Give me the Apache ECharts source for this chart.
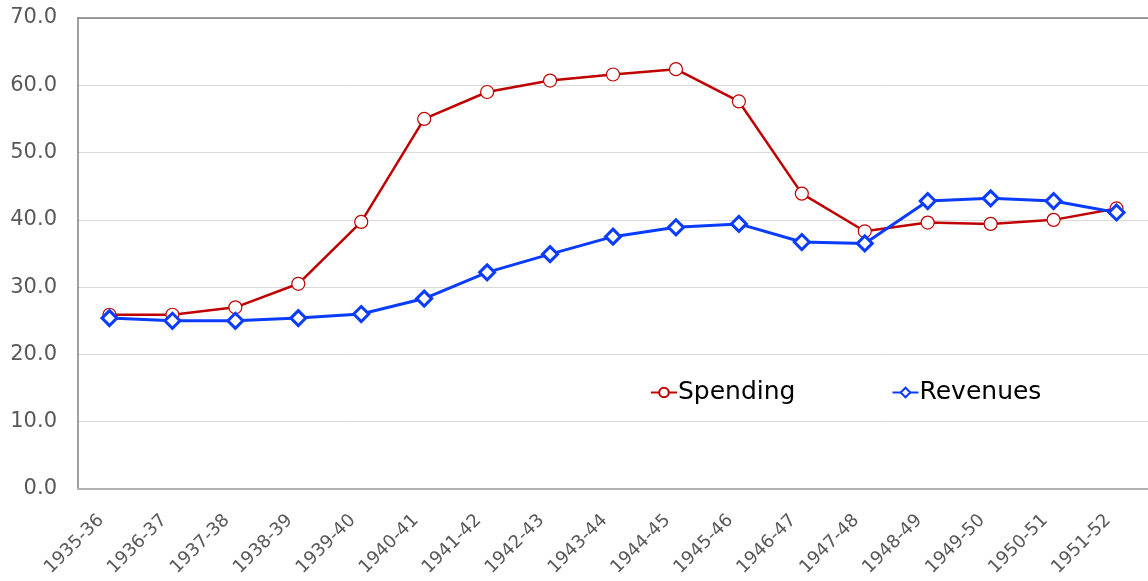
<!DOCTYPE html>
<html>
<head>
<meta charset="utf-8">
<script src="https://cdn.jsdelivr.net/npm/echarts@6/dist/echarts.min.js"></script>
<style>
html, body { margin: 0; padding: 0; background: #fff; }
#main { width: 1148px; height: 581px; }
</style>
</head>
<body>
<div id="main"></div>
<script>
// fiscal years
var categories = ['1935-36', '1936-37', '1937-38', '1938-39', '1939-40', '1940-41', '1941-42', '1942-43', '1943-44',
    '1944-45', '1945-46', '1946-47', '1947-48', '1948-49', '1949-50', '1950-51', '1951-52'];
var spending = [25.9, 25.9, 27.0, 30.5, 39.7, 55.0, 59.0, 60.7, 61.6, 62.4, 57.6, 43.9, 38.3, 39.6, 39.4, 40.0, 41.7];
var revenues = [25.4, 25.0, 25.0, 25.4, 26.0, 28.3, 32.2, 34.9, 37.5, 38.9, 39.4, 36.7, 36.5, 42.8, 43.2, 42.8, 41.1];
var seriesNames = ['Spending', 'Revenues'];

var fontFamily = '"DejaVu Sans", sans-serif';
var myChart = echarts.init(document.getElementById('main'));
var option = {
    animation : false,
    backgroundColor : '#fff',
    textStyle : { fontFamily : fontFamily },
    grid : {
        left : 78,
        right : -6,
        top : 18,
        bottom : 92,
        containLabel : false
    },
    legend : {
        data : seriesNames,
        left : 645,
        top : 375,
        itemGap : 96,
        itemWidth : 26,
        itemHeight : 12,
        textStyle : { fontSize : 25, color : '#000', fontFamily : fontFamily, padding : [0, 0, 0, -4] }
    },
    xAxis : [ {
        type : 'category',
        data : categories,
        axisLine : { lineStyle : { color : '#b3b3b3', width : 2 } },
        axisTick : { show : false },
        axisLabel : {
            rotate : 45,
            fontSize : 18,
            color : '#595959',
            margin : 20,
            padding : [0, 12, 0, 0],
            interval : 0
        }
    }, {
        type : 'category',
        position : 'top',
        data : categories,
        axisLine : { show : true, lineStyle : { color : '#7f7f7f', width : 1.5 } },
        axisTick : { show : false },
        axisLabel : { show : false }
    } ],
    yAxis : [ {
        type : 'value',
        min : 0,
        max : 70,
        interval : 10,
        axisLine : { show : true, lineStyle : { color : '#7f7f7f', width : 1.5 } },
        axisTick : { show : false },
        splitLine : { lineStyle : { color : '#d9d9d9', width : 1 } },
        axisLabel : {
            fontSize : 21,
            color : '#595959',
            margin : 21,
            formatter : function(v) { return v.toFixed(1); }
        }
    } ],
    series : [ {
        name : 'Spending',
        type : 'line',
        data : spending,
        symbol : 'circle',
        symbolSize : 13,
        lineStyle : { color : '#c00000', width : 2.5 },
        itemStyle : { color : '#fff', borderColor : '#c00000', borderWidth : 1.2 },
        z : 2
    }, {
        name : 'Revenues',
        type : 'line',
        data : revenues,
        symbol : 'diamond',
        symbolSize : 15,
        lineStyle : { color : '#0a3cff', width : 3 },
        itemStyle : { color : '#fff', borderColor : '#0a3cff', borderWidth : 3 },
        z : 3
    } ]
};
myChart.setOption(option);
</script>
</body>
</html>
